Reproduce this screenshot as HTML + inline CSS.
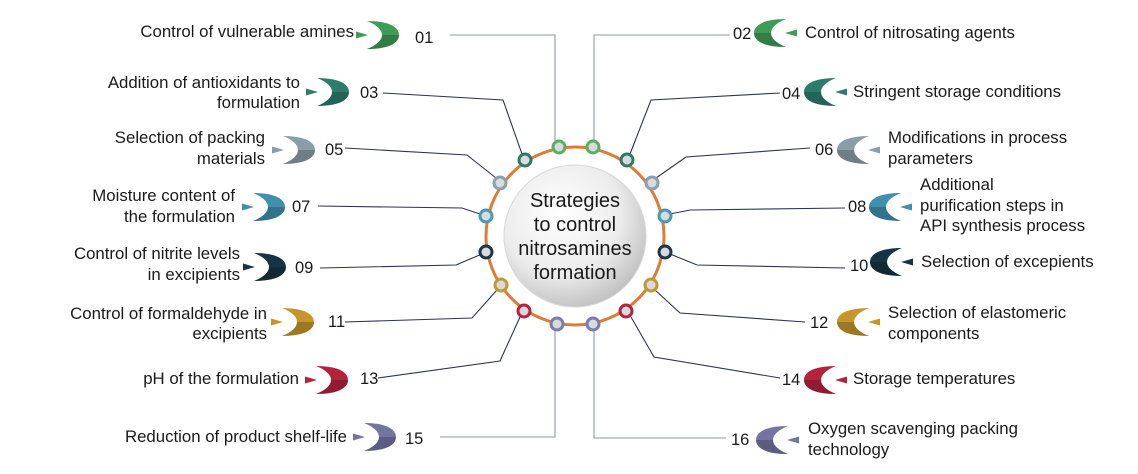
<!DOCTYPE html>
<html><head><meta charset="utf-8"><style>
html,body{margin:0;padding:0;background:#fff;}
svg{display:block;font-family:"Liberation Sans",Arial,sans-serif;}
text{font-size:16.8px;fill:#1a1a1a;}
.num{font-size:16.5px;}
.ln{fill:none;stroke:#2b3450;stroke-width:1.1;}
.lg{fill:none;stroke:#8a9aa8;stroke-width:1.1;}
</style></head><body>
<svg width="1138" height="474" viewBox="0 0 1138 474" xmlns="http://www.w3.org/2000/svg">
<defs>
<radialGradient id="cg" cx="40%" cy="35%" r="70%"><stop offset="0" stop-color="#ffffff"/><stop offset="0.6" stop-color="#ececec"/><stop offset="1" stop-color="#bdbdbd"/></radialGradient>
<clipPath id="bh"><rect x="0" y="14" width="50" height="20"/></clipPath>
<path id="cr" d="M11,0 C35,0 43,7 43,14 C43,21 35,28 11,28 C21,24 26,19 26,14 C26,9 21,4 11,0 Z"/>
<path id="tr" d="M0,10.5 L12,14 L0,17.5 Z"/>
<g id="ic"><use href="#cr"/><use href="#cr" fill="#000" fill-opacity="0.2" clip-path="url(#bh)"/><use href="#tr"/></g>
</defs>
<polyline class="lg" points="450,35 555,35 555,141"/>
<polyline class="lg" points="730,35 594,35 594,141"/>
<polyline class="ln" points="383,93 503,100 522,154"/>
<polyline class="ln" points="780,93 651,100 630,154"/>
<polyline class="ln" points="345,148 467,155 496,178"/>
<polyline class="ln" points="810,148 686,157 656,178"/>
<polyline class="ln" points="318,206 462,208 480,214"/>
<polyline class="ln" points="845,208 690,210 670,214"/>
<polyline class="ln" points="320,268 456,265 482,254"/>
<polyline class="ln" points="845,268 697,265 670,254"/>
<polyline class="ln" points="345,322 472,318 497,290"/>
<polyline class="ln" points="805,322 680,313 655,290"/>
<polyline class="ln" points="378,378 500,361 520,317"/>
<polyline class="ln" points="780,378 654,357 631,317"/>
<polyline class="lg" points="440,437 555,437 555,330"/>
<polyline class="lg" points="726,438 594,438 594,330"/>
<circle cx="575" cy="236" r="89" fill="none" stroke="#e07b35" stroke-width="3"/>
<circle cx="575" cy="236" r="71" fill="url(#cg)" stroke="#d8d8d8" stroke-width="1"/>
<g stroke-width="3" fill="#d9dade">
<circle cx="559" cy="147" r="6" stroke="#58b062"/>
<circle cx="593" cy="147" r="6" stroke="#58b062"/>
<circle cx="525" cy="160" r="6" stroke="#2e7a66"/>
<circle cx="627" cy="160" r="6" stroke="#2e7a66"/>
<circle cx="500" cy="183" r="6" stroke="#8aa0aa"/>
<circle cx="652" cy="183" r="6" stroke="#8aa0aa"/>
<circle cx="486" cy="216" r="6" stroke="#4a98b4"/>
<circle cx="665" cy="216" r="6" stroke="#4a98b4"/>
<circle cx="486" cy="252" r="6" stroke="#1b3646"/>
<circle cx="665" cy="252" r="6" stroke="#1b3646"/>
<circle cx="501" cy="285" r="6" stroke="#c29a34"/>
<circle cx="651" cy="285" r="6" stroke="#c29a34"/>
<circle cx="524" cy="311" r="6" stroke="#b5243e"/>
<circle cx="626" cy="311" r="6" stroke="#b5243e"/>
<circle cx="557" cy="324" r="6" stroke="#7c7cab"/>
<circle cx="593" cy="324" r="6" stroke="#7c7cab"/>
</g>
<g text-anchor="middle">
<text x="575" y="207" style="font-size:20px">Strategies</text>
<text x="575" y="231" style="font-size:20px">to control</text>
<text x="575" y="255" style="font-size:20px">nitrosamines</text>
<text x="575" y="279" style="font-size:20px">formation</text>
</g>
<use href="#ic" transform="translate(356,21)" fill="#3f9c57"/>
<use href="#ic" transform="translate(306,78)" fill="#2c7d6c"/>
<use href="#ic" transform="translate(272,136)" fill="#8a9ea8"/>
<use href="#ic" transform="translate(242,193)" fill="#3f8fae"/>
<use href="#ic" transform="translate(243,253)" fill="#173444"/>
<use href="#ic" transform="translate(271,308)" fill="#c4962c"/>
<use href="#ic" transform="translate(305,366)" fill="#b3243c"/>
<use href="#ic" transform="translate(353,423)" fill="#7474a3"/>
<use href="#ic" transform="translate(797,19) scale(-1,1)" fill="#3f9c57"/>
<use href="#ic" transform="translate(847,78) scale(-1,1)" fill="#2c7d6c"/>
<use href="#ic" transform="translate(880,136) scale(-1,1)" fill="#8a9ea8"/>
<use href="#ic" transform="translate(912,193) scale(-1,1)" fill="#3f8fae"/>
<use href="#ic" transform="translate(913,248) scale(-1,1)" fill="#173444"/>
<use href="#ic" transform="translate(880,308) scale(-1,1)" fill="#c4962c"/>
<use href="#ic" transform="translate(847,366) scale(-1,1)" fill="#b3243c"/>
<use href="#ic" transform="translate(799,426) scale(-1,1)" fill="#7474a3"/>
<text class="num" x="415" y="43">01</text>
<text class="num" x="360" y="98">03</text>
<text class="num" x="325" y="155">05</text>
<text class="num" x="292" y="212">07</text>
<text class="num" x="295" y="273">09</text>
<text class="num" x="328" y="327">11</text>
<text class="num" x="360" y="384">13</text>
<text class="num" x="405" y="444">15</text>
<text class="num" x="733" y="39">02</text>
<text class="num" x="782" y="99">04</text>
<text class="num" x="815" y="155">06</text>
<text class="num" x="848" y="212">08</text>
<text class="num" x="850" y="271">10</text>
<text class="num" x="810" y="328">12</text>
<text class="num" x="782" y="385">14</text>
<text class="num" x="731" y="445">16</text>
<g text-anchor="end">
<text x="354" y="37">Control of vulnerable amines</text>
<text x="300" y="88">Addition of antioxidants to</text><text x="300" y="108">formulation</text>
<text x="265" y="143">Selection of packing</text><text x="265" y="164">materials</text>
<text x="235" y="201">Moisture content of</text><text x="235" y="222">the formulation</text>
<text x="240" y="259">Control of nitrite levels</text><text x="240" y="280">in excipients</text>
<text x="267" y="319">Control of formaldehyde in</text><text x="267" y="339">excipients</text>
<text x="299" y="384">pH of the formulation</text>
<text x="347" y="442">Reduction of product shelf-life</text>
</g>
<text x="805" y="38">Control of nitrosating agents</text>
<text x="853" y="97">Stringent storage conditions</text>
<text x="888" y="143">Modifications in process</text><text x="888" y="164">parameters</text>
<text x="920" y="190">Additional</text><text x="920" y="211">purification steps in</text><text x="920" y="231">API synthesis process</text>
<text x="921" y="267">Selection of excepients</text>
<text x="888" y="318">Selection of elastomeric</text><text x="888" y="339">components</text>
<text x="853" y="384">Storage temperatures</text>
<text x="808" y="434">Oxygen scavenging packing</text><text x="808" y="455">technology</text>
</svg>
</body></html>
